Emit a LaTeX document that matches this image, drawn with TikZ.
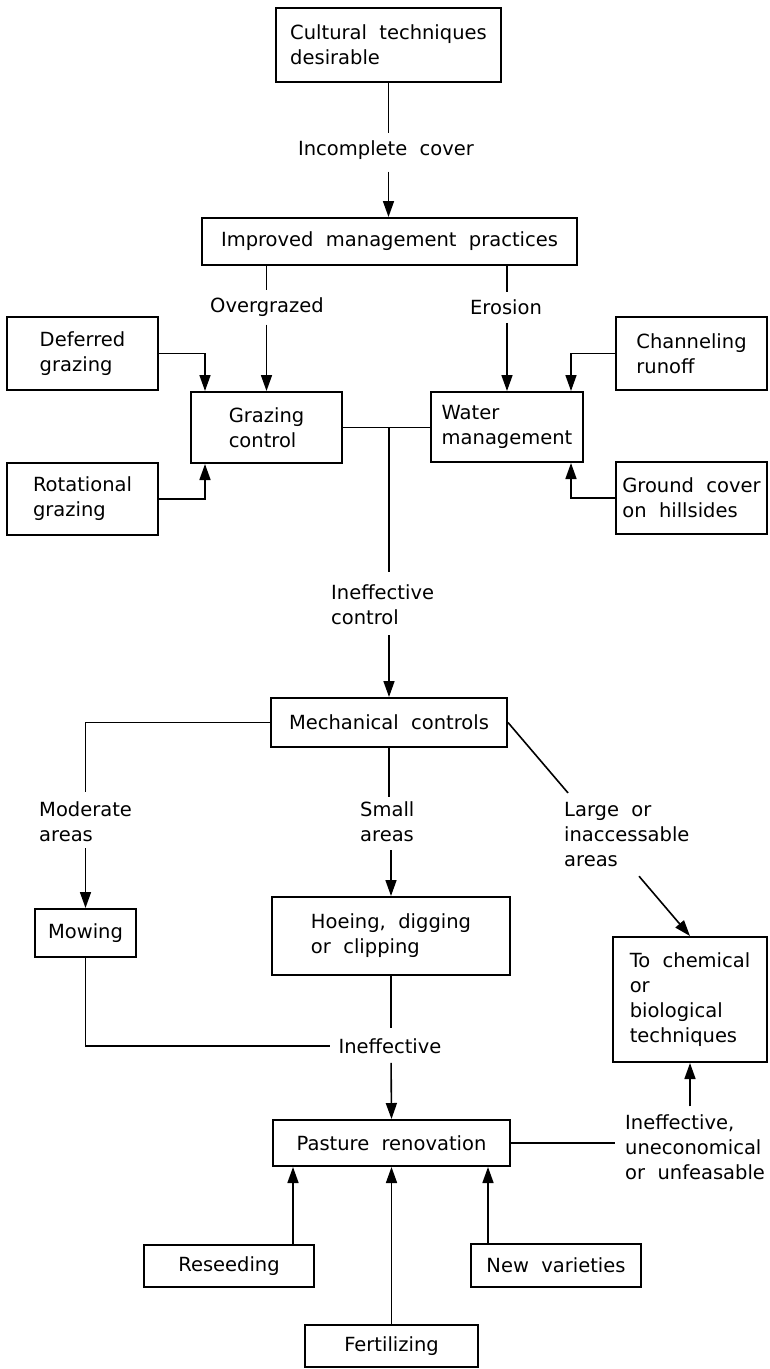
\documentclass[tikz,border=0pt]{standalone}
\usepackage{fontspec}
\setmainfont{DejaVu Sans}[WordSpace=2.0]
\usetikzlibrary{arrows.meta,calc}
\newcommand\fs{\fontsize{19.5}{25}\selectfont}
\begin{document}
\begin{tikzpicture}[x=1pt,y=-1pt,
 box/.style={draw, line width=2pt, inner sep=0pt, align=left, font=\fs},
 lbl/.style={inner sep=0pt, align=left, font=\fs},
 ln/.style={line width=1.6pt},
 arr/.style={line width=1.6pt, -{Triangle[length=16pt,width=11pt]}},
]
\useasboundingbox[fill=white] (0,0) rectangle (769,1369);
% boxes
\node[box, minimum width=225pt, minimum height=74pt] (cult) at (388.5,45) {Cultural techniques\\desirable};
\node[box, minimum width=375pt, minimum height=47pt] (impr) at (389.5,241.5) {Improved management practices};
\node[box, minimum width=151pt, minimum height=73pt] (defer) at (82.5,353.5) {Deferred\\grazing};
\node[box, minimum width=151pt, minimum height=71pt] (graz) at (266.5,427.5) {Grazing\\control};
\node[box, minimum width=151pt, minimum height=72pt] (rot) at (82.5,499) {Rotational\\grazing};
\node[box, minimum width=152pt, minimum height=70pt] (water) at (507,427) {Water\\management};
\node[box, minimum width=151pt, minimum height=73pt] (chan) at (691.5,353.5) {Channeling\\runoff};
\node[box, minimum width=151pt, minimum height=72pt] (ground) at (691.5,498) {Ground cover\\on hillsides};
\node[box, minimum width=236pt, minimum height=49pt] (mech) at (389,722.5) {Mechanical controls};
\node[box, minimum width=101pt, minimum height=48pt] (mow) at (85.5,933) {Mowing};
\node[box, minimum width=238pt, minimum height=78pt] (hoe) at (391,936) {Hoeing, digging\\or clipping};
\node[box, minimum width=154pt, minimum height=125pt] (chem) at (690,999.5) {To chemical\\or\\biological\\techniques};
\node[box, minimum width=237pt, minimum height=46pt] (past) at (391.5,1143) {Pasture renovation};
\node[box, minimum width=170pt, minimum height=42pt] (reseed) at (229,1266) {Reseeding};
\node[box, minimum width=170pt, minimum height=43pt] (newv) at (556,1265.5) {New varieties};
\node[box, minimum width=173pt, minimum height=42pt] (fert) at (391.5,1346) {Fertilizing};
% labels
\node[lbl] (inc) at (386,150) {Incomplete cover};
\node[lbl] (over) at (267,307) {Overgrazed};
\node[lbl] (eros) at (506,307) {Erosion};
\node[lbl, anchor=west] (ineffc) at (331,605) {Ineffective\\control};
\node[lbl, anchor=west] (moder) at (39,822) {Moderate\\areas};
\node[lbl, anchor=west] (small) at (360,822) {Small\\areas};
\node[lbl, anchor=west] (large) at (564,835) {Large or\\inaccessable\\areas};
\node[lbl] (ineff2) at (390,1046) {Ineffective};
\node[lbl, anchor=west] (ineff3) at (625,1147) {Ineffective,\\uneconomical\\or unfeasable};
% connectors
\draw[ln, shorten >=7pt] (cult.south) -- (cult.south |- inc.north);
\draw[arr, shorten <=12pt] (cult.south |- inc.south) -- (cult.south |- impr.north);
\draw[ln, shorten >=7pt] (impr.south -| graz.north) -- (over.north -| graz.north);
\draw[arr, shorten <=8pt] (over.south -| graz.north) -- (graz.north);
\draw[ln, shorten >=7pt] (impr.south -| water.north) -- (eros.north -| water.north);
\draw[arr, shorten <=8pt] (eros.south -| water.north) -- (water.north);
\coordinate (gd) at ([xshift=-61.5pt]graz.north);
\coordinate (gr) at ([xshift=-61.5pt]graz.south);
\draw[arr] (defer.east) -| (gd);
\draw[arr] (rot.east) -| (gr);
\coordinate (wc) at ([xshift=64pt]water.north);
\coordinate (wg) at ([xshift=64pt]water.south);
\draw[arr] (chan.west) -| (wc);
\draw[arr] (ground.west) -| (wg);
\draw[ln] (graz.east) -- (graz.east -| water.west);
\draw[ln, shorten >=13pt] (mech.north |- graz.east) -- (mech.north |- ineffc.north);
\draw[arr, shorten <=10pt] (mech.north |- ineffc.south) -- (mech.north);
\draw[ln, shorten >=10pt] (mech.west) -| (mow.north |- moder.north);
\draw[arr, shorten <=6pt] (mow.north |- moder.south) -- (mow.north);
\draw[ln, shorten >=5pt] (mech.south) -- (mech.south |- small.north);
\draw[arr, shorten <=8pt] (hoe.north |- small.south) -- (hoe.north);
\draw[ln] (mech.east) -- ($(mech.east)!0.33!(chem.north)$);
\draw[arr] ($(mech.east)!0.72!(chem.north)$) -- (chem.north);
\coordinate (iw) at ([xshift=-8pt]ineff2.west);
\draw[ln] (mow.south) |- (iw);
\draw[ln, shorten >=10pt] (hoe.south) -- (hoe.south |- ineff2.north);
\draw[arr, shorten <=9pt] (hoe.south |- ineff2.south) -- (past.north);
\coordinate (p3) at (past.east -| ineff3.west);
\draw[ln] (past.east) -- ([xshift=-10pt]p3);
\coordinate (c3) at (chem.south |- ineff3.north);
\draw[arr] ([yshift=8pt]c3) -- (chem.south);
\coordinate (r1) at ([xshift=64pt]reseed.north);
\draw[arr] (r1) -- (r1 |- past.south);
\coordinate (n1) at ([xshift=-68pt]newv.north);
\draw[arr] (n1) -- (n1 |- past.south);
\draw[arr] (fert.north) -- (fert.north |- past.south);
\end{tikzpicture}
\end{document}
